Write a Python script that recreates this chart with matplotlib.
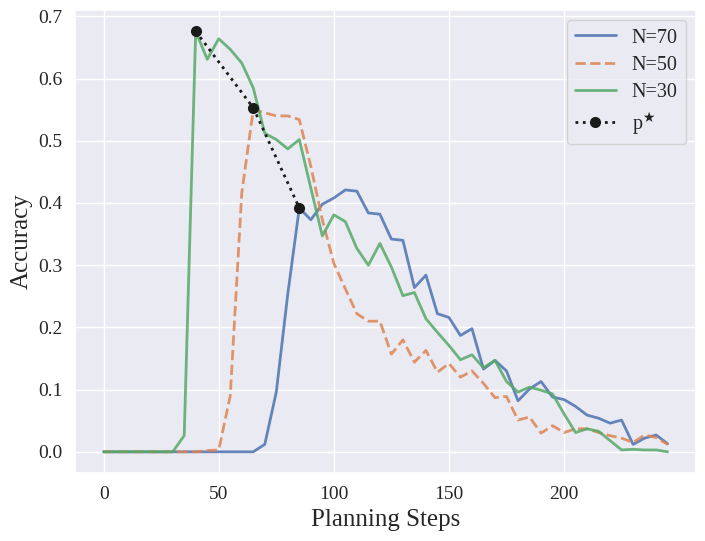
import numpy as np
import seaborn as sns
from matplotlib import pyplot as plt

steps = list(range(0, 250, 5))

acc_n70 = [0, 0, 0, 0, 0, 0, 0, 0, 0, 0, 0, 0, 0, 0, 0.012, 0.096, 0.254, 0.392,
           0.373, 0.398, 0.408, 0.421, 0.419, 0.384, 0.382, 0.342, 0.340, 0.264,
           0.284, 0.222, 0.216, 0.187, 0.198, 0.133, 0.147, 0.130, 0.082, 0.101,
           0.113, 0.088, 0.084, 0.073, 0.059, 0.054, 0.046, 0.051, 0.012, 0.022,
           0.027, 0.013]
acc_n50 = [0, 0, 0, 0, 0, 0, 0, 0, 0, 0.002, 0.003, 0.09, 0.416, 0.55, 0.545,
           0.540, 0.540, 0.534, 0.459, 0.373, 0.303, 0.262, 0.222, 0.210, 0.210,
           0.157, 0.180, 0.144, 0.163, 0.128, 0.142, 0.120, 0.130, 0.110, 0.087,
           0.089, 0.051, 0.056, 0.030, 0.042, 0.031, 0.037, 0.037, 0.031, 0.026,
           0.022, 0.015, 0.027, 0.023, 0.012]
acc_n30 = [0, 0, 0, 0, 0, 0, 0, 0.026, 0.676, 0.631, 0.664, 0.647, 0.625, 0.585,
           0.512, 0.502, 0.487, 0.502, 0.424, 0.347, 0.381, 0.370, 0.327, 0.300,
           0.335, 0.297, 0.251, 0.256, 0.214, 0.192, 0.171, 0.148, 0.156, 0.135,
           0.147, 0.113, 0.096, 0.104, 0.099, 0.093, 0.061, 0.031, 0.037, 0.033,
           0.018, 0.003, 0.004, 0.003, 0.003, 0.0]

pstar_x = [40, 65, 85]
pstar_y = [0.676, 0.553, 0.392]

sns.set_theme(style='darkgrid', palette='deep')
plt.rcParams['font.family'] = ['Liberation Serif', 'DejaVu Serif']
plt.rcParams['mathtext.fontset'] = 'stix'

fig, ax = plt.subplots(figsize=(7.05, 5.41), dpi=100)
c = sns.color_palette('deep')
ax.plot(steps, acc_n70, color=c[0], lw=2, alpha=0.85, label='N=70')
ax.plot(steps, acc_n50, color=c[1], lw=2, ls='--', alpha=0.85, label='N=50')
ax.plot(steps, acc_n30, color=c[2], lw=2, alpha=0.85, label='N=30')
ax.plot(pstar_x, pstar_y, color='k', ls=':', marker='o', lw=2, ms=7,
        label=r'p$^{\bigstar}$')

ax.set_xlabel('Planning Steps', fontsize=18)
ax.set_ylabel('Accuracy', fontsize=18)
ax.tick_params(labelsize=14)
ax.set_xticks([0, 50, 100, 150, 200])
ax.legend(fontsize=14.5, loc='upper right', labelspacing=0.4)

fig.subplots_adjust(left=0.107, right=0.987, top=0.981, bottom=0.126)
fig.savefig('out.png')
